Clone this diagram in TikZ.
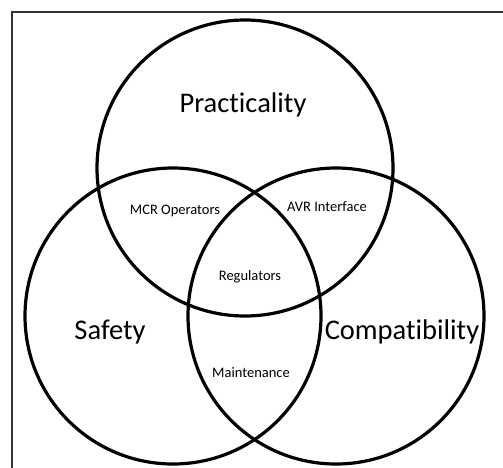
\documentclass[tikz,border=0pt]{standalone}
\usepackage{fontspec}
\setmainfont{Carlito}[Ligatures=NoCommon]
\begin{document}
\begin{tikzpicture}[
    x=1pt, y=-1pt,
    set/.style={circle, draw=black, line width=3.2pt, minimum size=296pt, inner sep=0pt},
    setname/.style={font=\fontsize{28.5}{32}\selectfont, inner sep=0pt},
    overlap/.style={font=\fontsize{14.5}{17}\selectfont, inner sep=0pt}
]
    \useasboundingbox (0,0) rectangle (503,467);
    \clip (0,0) rectangle (503,467);
    \draw[line width=1.5pt, black!80] (12,12) rectangle (530,490);

    % the three sets
    \node[set] (practicality) at (245,168) {};
    \node[set] (safety) at (173,316) {};
    \node[set] (compatibility) at (336,316) {};

    % set names
    \node[setname] (ptext) at (243,105) {Practicality};
    \node[setname] (stext) at (110,332) {Safety};
    \node[setname] (ctext) at (402,332) {Compatibility};

    % overlaps
    \node[overlap] (mcr) at (175,211) {MCR Operators};
    \node[overlap] (avr) at (327,207) {AVR Interface};
    \node[overlap] (reg) at (250,277) {Regulators};
    \node[overlap] (maint) at (251,373) {Maintenance};
\end{tikzpicture}
\end{document}
